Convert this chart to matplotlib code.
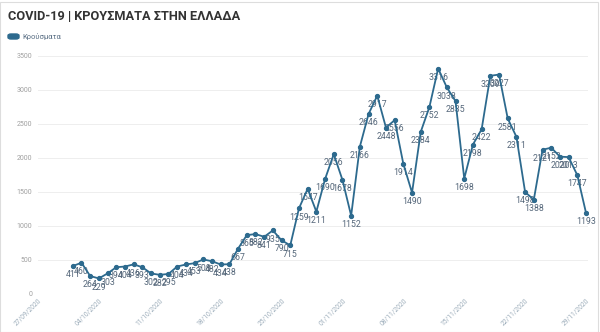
import matplotlib
matplotlib.use('Agg')
import matplotlib.pyplot as plt
import matplotlib.dates as mdates
from matplotlib.patches import FancyBboxPatch, Rectangle
import pandas as pd

# daily cases, 01/10/2020 .. 29/11/2020
start_date = '2020-10-01'
end_date = '2020-11-29'
cases_oct = [411, 460, 264, 229, 303, 394, 404, 436, 393, 302, 282, 295, 404, 434,
             453, 508, 482, 434, 438, 667, 865, 882, 841, 935, 790, 715, 1259, 1547,
             1211, 1690, 2056]
cases_nov = [1678, 1152, 2166, 2646, 2917, 2448, 2556, 1914, 1490, 2384, 2752, 3316,
             3038, 2835, 1698, 2198, 2422, 3209, 3227, 2581, 2311, 1498, 1388, 2121,
             2152, 2020, 2013, 1747, 1193]
tick_labels = ['27/09/2020', '04/10/2020', '11/10/2020', '18/10/2020', '25/10/2020',
               '01/11/2020', '08/11/2020', '15/11/2020', '22/11/2020', '29/11/2020']
y_ticks = [0, 500, 1000, 1500, 2000, 2500, 3000, 3500]

title = 'COVID-19 | ΚΡΟΥΣΜΑΤΑ ΣΤΗΝ ΕΛΛΑΔΑ'
series_name = 'Κρούσματα'

line_col = '#2d6a8e'
label_col = '#55677a'

dates = pd.date_range(start_date, end_date)
cases = cases_oct + cases_nov

plt.rcParams['font.family'] = ['Roboto', 'DejaVu Sans']

fig = plt.figure(figsize=(6, 3.32), dpi=100)
ax = fig.add_axes([38 / 600, 1 - 294 / 332, 550 / 600, (294 - 56) / 332])

ax.plot(dates, cases, color=line_col, lw=1.3, marker='o', ms=2.8, zorder=3)
for d, v in zip(dates, cases):
  ax.annotate(str(v), (d, v), xytext=(0, -3), textcoords='offset points',
              ha='center', va='top', fontsize=6.3, color=label_col, zorder=2)

d0 = mdates.date2num(dates[0])
step = (586 - 69.3) / (len(dates) - 1)
ax.set_xlim(d0 - (69.3 - 38) / step, d0 + (588 - 69.3) / step)
ax.set_ylim(0, 3500)

ticks = [mdates.date2num(pd.to_datetime(t, dayfirst=True)) for t in tick_labels]
ax.set_xticks(ticks)
ax.set_xticklabels(tick_labels, rotation=45, ha='right', va='top',
                   rotation_mode='anchor', fontsize=4.8, color='#9aabb9')
ax.set_yticks(y_ticks)
ax.set_yticklabels([str(t) for t in y_ticks], fontsize=5, color='#a0a0a0')
ax.tick_params(axis='y', length=0, pad=4)
ax.tick_params(axis='x', length=0, pad=2)
ax.grid(axis='y', color='#eeeeee', lw=0.7)
ax.set_axisbelow(True)
for s in ax.spines.values():
  s.set_visible(False)

fig.text(8 / 600, 1 - 17 / 332, title, fontsize=9.2, fontweight='bold',
         color='#333333', va='center', ha='left')
fig.patches.append(FancyBboxPatch((8 / 600, 1 - 39 / 332), 11 / 600, 5 / 332,
                                  boxstyle='round,pad=0,rounding_size=0.005',
                                  transform=fig.transFigure, color=line_col))
fig.text(22 / 600, 1 - 36.5 / 332, series_name, fontsize=5.5, color='#5a6f84',
         va='center', ha='left')
fig.patches.append(Rectangle((0, 0), 0.997, 0.995, transform=fig.transFigure,
                             fill=False, ec='#dddddd', lw=0.8))

fig.savefig('out.png', dpi=100)
